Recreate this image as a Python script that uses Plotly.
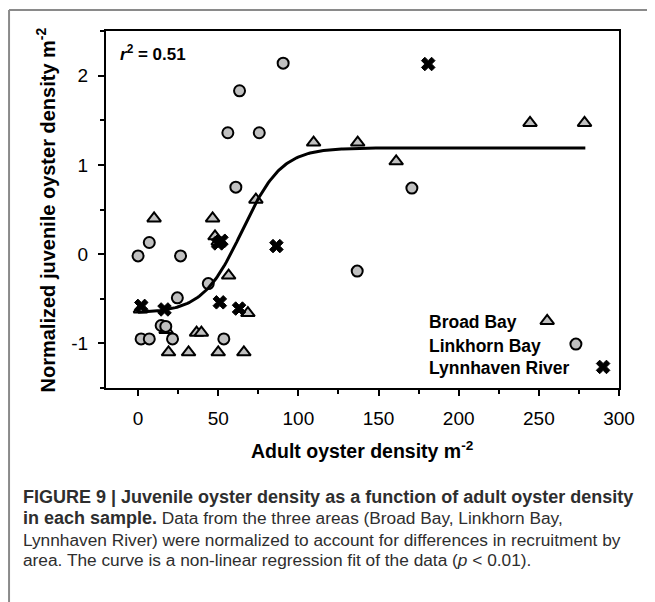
import numpy as np
import plotly.graph_objects as go

# ---------------- data ----------------
broad_x = [10, 46.5, 48, 50, 73.5, 109.5, 137, 161, 244.5, 278.5,
           56.5, 68.5, 36.5, 39.5, 17.5, 19, 31.5, 50, 66, 1.5]
broad_y = [0.40, 0.40, 0.20, 0.14, 0.61, 1.25, 1.25, 1.04, 1.47, 1.47,
           -0.24, -0.66, -0.88, -0.88, -0.85, -1.10, -1.10, -1.10, -1.10, -0.62]

linkhorn_x = [90.5, 63.3, 56, 75.6, 61, 7, 0, 26.5, 170.8, 136.7,
              43.8, 24.5, 14.4, 17.3, 1.9, 7, 21.5, 53.5]
linkhorn_y = [2.14, 1.83, 1.36, 1.36, 0.75, 0.13, -0.02, -0.02, 0.74, -0.19,
              -0.33, -0.49, -0.80, -0.81, -0.95, -0.95, -0.95, -0.95]

lynn_x = [181, 86.3, 50, 52, 2, 16.5, 51, 63]
lynn_y = [2.13, 0.09, 0.12, 0.15, -0.58, -0.62, -0.54, -0.61]

# sigmoid regression fit parameters (y0 + a / (1 + exp(-(x - x0) / b)))
fit_y0, fit_a, fit_x0, fit_b = -0.66, 1.85, 65.0, 12.3
fit_xmin, fit_xmax = 0, 279

x_ticks = [0, 50, 100, 150, 200, 250, 300]
x_tick_labels = ["0", "50", "100", "150", "200", "250", "300"]
y_ticks = [-1, 0, 1, 2]
y_tick_labels = ["-1", "0", "1", "2"]

series_names = ["Broad Bay", "Linkhorn Bay", "Lynnhaven River"]

caption_lines = [
    "<b>FIGURE 9 | Juvenile oyster density as a function of adult oyster density</b>",
    "<span style='font-size:18px'><b>in each sample.</b></span> Data from the three areas (Broad Bay, Linkhorn Bay,",
    "Lynnhaven River) were normalized to account for differences in recruitment by",
    "area. The curve is a non-linear regression fit of the data (<i>p</i> &lt; 0.01).",
]
caption_sizes = [18, 17.3, 17.3, 17.3]

# ---------------- figure ----------------
FONT = "Liberation Sans, Arial, sans-serif"
GRAY = "#c0c0c0"

tri_style = dict(symbol="triangle-up", size=12, color=GRAY, line=dict(color="black", width=2))
cir_style = dict(symbol="circle", size=11, color=GRAY, line=dict(color="black", width=2))
x_style = dict(symbol="x", size=12, color="black", line=dict(color="black", width=1))

fig = go.Figure()
fig.add_trace(go.Scatter(x=broad_x, y=broad_y, mode="markers", marker=tri_style,
                         name=series_names[0], showlegend=False))
fig.add_trace(go.Scatter(x=linkhorn_x, y=linkhorn_y, mode="markers", marker=cir_style,
                         name=series_names[1], showlegend=False))
fig.add_trace(go.Scatter(x=lynn_x, y=lynn_y, mode="markers", marker=x_style,
                         name=series_names[2], showlegend=False))

xc = np.linspace(fit_xmin, fit_xmax, 300)
yc = fit_y0 + fit_a / (1 + np.exp(-(xc - fit_x0) / fit_b))
fig.add_trace(go.Scatter(x=xc, y=yc, mode="lines", line=dict(color="black", width=3),
                         showlegend=False, hoverinfo="skip"))

# legend keys drawn on an overlay axis in plot-fraction units
leg_key_x = [0.860, 0.916, 0.969]
leg_key_y = [0.188, 0.123, 0.059]
leg_text_y = [0.185, 0.118, 0.056]
for i, st in enumerate([tri_style, cir_style, x_style]):
    fig.add_trace(go.Scatter(x=[leg_key_x[i]], y=[leg_key_y[i]], mode="markers",
                             marker=st, xaxis="x2", yaxis="y2", showlegend=False,
                             hoverinfo="skip"))

axis_common = dict(showline=True, linecolor="black", linewidth=2, mirror=True,
                   ticks="outside", ticklen=6, tickwidth=2, tickcolor="black",
                   showgrid=False, zeroline=False,
                   tickfont=dict(family=FONT, size=19, color="black"))

# page body has an 8px margin, so the figure is 8px smaller and offset
fig.update_layout(
    width=647, height=594,
    margin=dict(l=98, r=36, t=23, b=214),
    paper_bgcolor="white", plot_bgcolor="white",
    font=dict(family=FONT, color="black"),
    xaxis=dict(range=[-20, 300], tickvals=x_ticks, ticktext=x_tick_labels,
               minor=dict(dtick=25, tick0=0, ticks="outside", ticklen=4, tickwidth=2, tickcolor="black"),
               ticklabelstandoff=6, **axis_common),
    yaxis=dict(range=[-1.5, 2.5], tickvals=y_ticks, ticktext=y_tick_labels,
               minor=dict(dtick=0.5, tick0=0, ticks="outside", ticklen=4, tickwidth=2, tickcolor="black"),
               ticklabelstandoff=6, **axis_common),
    xaxis2=dict(range=[0, 1], overlaying="x", visible=False, anchor="y2"),
    yaxis2=dict(range=[0, 1], overlaying="y", visible=False, anchor="x2"),
    showlegend=False,
)

ann = []
# r^2 label
ann.append(dict(xref="paper", yref="paper", x=0.023, y=0.938, xanchor="left", yanchor="middle",
                text="<b><i>r</i><sup>2</sup> = 0.51</b>", showarrow=False,
                font=dict(family=FONT, size=17, color="black")))
# legend texts
for i, name in enumerate(series_names):
    ann.append(dict(xref="paper", yref="paper", x=0.626, y=leg_text_y[i], xanchor="left",
                    yanchor="middle", text="<b>" + name + "</b>", showarrow=False,
                    font=dict(family=FONT, size=17.5, color="black")))
# axis titles
ann.append(dict(xref="paper", yref="paper", x=0.5, y=-0.175, xanchor="center", yanchor="middle",
                text="<b>Adult oyster density m<sup>-2</sup></b>", showarrow=False,
                font=dict(family=FONT, size=19.5, color="black")))
ann.append(dict(xref="paper", yref="paper", x=-0.117, y=0.5, xanchor="center", yanchor="middle",
                textangle=-90, text="<b>Normalized juvenile oyster density m<sup>-2</sup></b>",
                showarrow=False, font=dict(family=FONT, size=20, color="black")))
# caption
cap_y = [-0.305, -0.365, -0.426, -0.483]
for i, line in enumerate(caption_lines):
    ann.append(dict(xref="paper", yref="paper", x=-0.1657, y=cap_y[i], xanchor="left",
                    yanchor="middle", text=line, showarrow=False,
                    font=dict(family=FONT, size=caption_sizes[i], color="#2e2e2e")))
fig.update_layout(annotations=ann)

# outer frame (gray top and left border)
fig.add_shape(type="line", xref="paper", yref="paper", x0=-0.189, x1=1.08, y0=1.0588, y1=1.0588,
              line=dict(color="#8a8a8a", width=2))
fig.add_shape(type="line", xref="paper", yref="paper", x0=-0.189, x1=-0.189, y0=1.0588, y1=-0.62,
              line=dict(color="#8a8a8a", width=2))

fig.write_html("out.html")
